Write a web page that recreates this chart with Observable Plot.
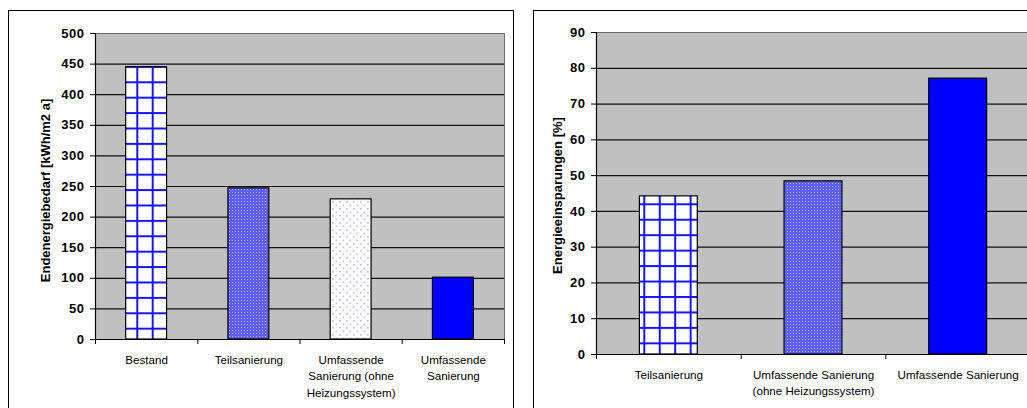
<!DOCTYPE html>
<html>
<head>
<meta charset="utf-8">
<script src="https://cdn.jsdelivr.net/npm/d3@7"></script>
<script src="https://cdn.jsdelivr.net/npm/@observablehq/plot@0.6"></script>
<style>
  html, body { margin: 0; padding: 0; overflow: hidden; background: #fff; color: #000; }
  body { width: 1027px; height: 408px; position: relative; font-family: "Liberation Sans", Arial, sans-serif; }
  .panel { position: absolute; top: 10px; height: 420px; border: 1px solid #000; background: #fff; box-sizing: border-box; }
  #demand { left: 8px; width: 506px; }
  #savings { left: 533px; width: 508px; }
  .panel svg { display: block; }
  g[aria-label="y-axis tick label"] text { letter-spacing: 0.5px; }
  g[aria-label="y title"] text { letter-spacing: 0.8px; }
</style>
</head>
<body>
<div id="demand" class="panel"></div>
<div id="savings" class="panel"></div>
<script>
// Final energy demand per refurbishment variant
const demandCategories = ["Bestand", "Teilsanierung", "Umfassende Sanierung (ohne Heizungssystem)", "Umfassende Sanierung"];
const demandValues = [445, 247, 229, 101];
const demandTickLabels = ["Bestand", "Teilsanierung", "Umfassende\nSanierung (ohne\nHeizungssystem)", "Umfassende\nSanierung"];
const demandYTicks = [0, 50, 100, 150, 200, 250, 300, 350, 400, 450, 500];
const demandTitle = "Endenergiebedarf [kWh/m2 a]";

// Energy savings relative to the existing building
const savingsCategories = ["Teilsanierung", "Umfassende Sanierung (ohne Heizungssystem)", "Umfassende Sanierung"];
const savingsValues = [44.2, 48.4, 77.1];
const savingsTickLabels = ["Teilsanierung", "Umfassende Sanierung\n(ohne Heizungssystem)", "Umfassende Sanierung"];
const savingsYTicks = [0, 10, 20, 30, 40, 50, 60, 70, 80, 90];
const savingsTitle = "Energieeinsparungen [%]";

// Fill pattern per category (styling, not data)
const fillByCategory = {
  "Bestand": "grid",
  "Teilsanierung": "dense",
  "Umfassende Sanierung (ohne Heizungssystem)": "dots",
  "Umfassende Sanierung": "solid"
};
const fillBySavings = {
  "Teilsanierung": "grid",
  "Umfassende Sanierung (ohne Heizungssystem)": "dense",
  "Umfassende Sanierung": "solid"
};

function patternDefs(id, grid) {
  const t = grid.size;
  return `
    <pattern id="${id}-grid" patternUnits="userSpaceOnUse" x="${grid.x}" y="${grid.y}" width="${t}" height="${t}">
      <rect width="${t}" height="${t}" fill="#fff"/>
      <rect x="0" y="0" width="2" height="${t}" fill="#1414ff"/>
      <rect x="0" y="0" width="${t}" height="2" fill="#1414ff"/>
    </pattern>
    <pattern id="${id}-dense" patternUnits="userSpaceOnUse" width="3" height="3">
      <rect width="3" height="3" fill="#5e5ef4"/>
      <rect x="1" y="1" width="1" height="1" fill="#b8b8ff"/>
    </pattern>
    <pattern id="${id}-dots" patternUnits="userSpaceOnUse" width="7" height="7">
      <rect width="7" height="7" fill="#fff"/>
      <rect x="1" y="1" width="1.7" height="1.7" fill="#bcbcff"/>
      <rect x="4.5" y="4.5" width="1.7" height="1.7" fill="#bcbcff"/>
    </pattern>`;
}

function barChart({el, id, categories, values, tickLabels, yTicks, title, fills, width, height, margins, titleDx, titleDy, grid}) {
  const n = categories.length;
  const rows = categories.map((name, i) => ({name, value: values[i], i, label: tickLabels[i]}));
  const fillOf = d => fills[d.name] === "solid" ? "#0000ff" : `url(#${id}-${fills[d.name]})`;
  const svg = Plot.plot({
    width, height,
    ...margins,
    style: {fontFamily: "'Liberation Sans', Arial, sans-serif", color: "#000", background: "#fff", overflow: "visible"},
    x: {domain: [0, n]},
    y: {domain: [yTicks[0], yTicks[yTicks.length - 1]]},
    color: {type: "identity"},
    marks: [
      Plot.frame({fill: "#c0c0c0", stroke: "#6c6c6c"}),
      Plot.ruleY(yTicks.slice(1, -1), {stroke: "#111", strokeWidth: 1.2}),
      Plot.rectY(rows, {x1: d => d.i + 0.3, x2: d => d.i + 0.7, y: "value", fill: fillOf, stroke: "#000", strokeWidth: 1.2}),
      Plot.ruleX([0], {stroke: "#000", strokeWidth: 1.2}),
      Plot.ruleY([0], {stroke: "#000", strokeWidth: 1.2}),
      Plot.axisX({ticks: d3.range(n + 1), tickSize: 5, tickFormat: () => "", label: null}),
      Plot.axisY({ticks: yTicks, tickSize: 5, tickPadding: 6, fontSize: 13, fontWeight: "bold", label: null}),
      Plot.text(rows, {x: d => d.i + 0.5, y: 0, text: "label", lineAnchor: "top", dy: 12.5, fontSize: 11.6, lineHeight: 1.42}),
      Plot.text([title], {frameAnchor: "left", textAnchor: "middle", rotate: -90, dx: titleDx, dy: titleDy, text: d => d, fontSize: 13, fontWeight: "bold", ariaLabel: "y title"})
    ]
  });
  d3.select(svg).insert("defs", ":first-child").html(patternDefs(id, grid));
  document.getElementById(el).appendChild(svg);
}

barChart({
  el: "demand", id: "dem",
  categories: demandCategories, values: demandValues, tickLabels: demandTickLabels,
  yTicks: demandYTicks, title: demandTitle, fills: fillByCategory,
  width: 504, height: 397,
  margins: {marginLeft: 86, marginRight: 9, marginTop: 22, marginBottom: 69},
  titleDx: -50, titleDy: 4,
  grid: {size: 15.4, x: 4.1, y: 8.7}
});

barChart({
  el: "savings", id: "sav",
  categories: savingsCategories, values: savingsValues, tickLabels: savingsTickLabels,
  yTicks: savingsYTicks, title: savingsTitle, fills: fillBySavings,
  width: 506, height: 397,
  margins: {marginLeft: 62, marginRight: 10, marginTop: 21, marginBottom: 54},
  titleDx: -38.5, titleDy: 2,
  grid: {size: 15.45, x: 1.15, y: 6.9}
});
</script>
</body>
</html>
